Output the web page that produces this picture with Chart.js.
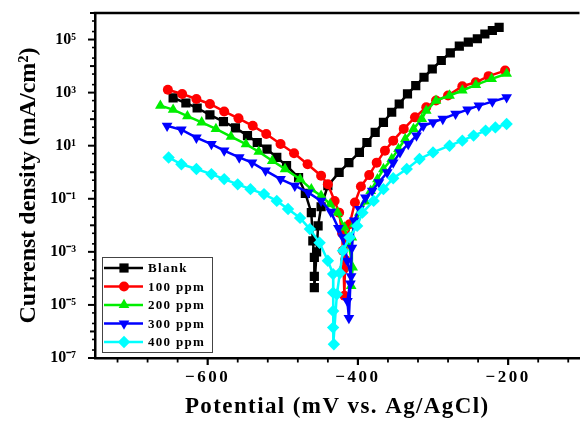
<!DOCTYPE html>
<html>
<head>
<meta charset="utf-8">
<script src="https://cdn.jsdelivr.net/npm/chart.js@4.4.1/dist/chart.umd.min.js"></script>
<style>
  html, body { margin: 0; padding: 0; background: #fff; }
  #wrap { width: 586px; height: 421px; }
</style>
</head>
<body>
<div id="wrap"><canvas id="tafel" width="586" height="421"></canvas></div>
<script>
// Potentiodynamic polarization (Tafel) curves: potential in mV, current density in mA/cm2
const seriesNames = ['Blank', '100 ppm', '200 ppm', '300 ppm', '400 ppm'];

const blankPotential = [-646, -629, -614, -597, -579, -563, -547, -534, -521, -508, -495, -479, -470, -462, -460, -458, -458, -458, -455, -453, -449, -440, -425, -412, -398, -388, -377, -366, -355, -345, -334, -323, -312, -301, -289, -277, -265, -253, -241, -231, -221, -212];
const blankCurrent = [631, 407, 263, 145, 81, 47, 24, 13.2, 7.4, 3.6, 1.78, 0.63, 0.16, 0.030, 0.0026, 6.2e-4, 1.2e-4, 4.5e-5, 1.0e-3, 0.0095, 0.05, 0.31, 0.98, 2.3, 5.6, 13.2, 32, 76, 182, 372, 891, 1820, 3800, 7760, 16200, 31600, 56200, 79400, 107000, 162000, 219000, 288000];

const ppm100Potential = [-653, -634, -615, -597, -578, -559, -540, -522, -503, -485, -467, -449, -440, -431, -425, -421, -420, -419, -418, -417, -414, -411, -404, -396, -385, -375, -364, -353, -339, -324, -309, -296, -280, -261, -243, -226, -204];
const ppm100Current = [1290, 891, 575, 372, 195, 107, 56, 27.5, 11.5, 5.2, 2.0, 0.74, 0.35, 0.083, 0.030, 0.005, 1.1e-3, 2.2e-4, 2.2e-5, 5e-4, 3.2e-3, 0.011, 0.072, 0.29, 0.78, 2.3, 6.5, 15.5, 43, 117, 282, 501, 776, 1740, 2450, 4170, 6760];

const ppm200Potential = [-663, -646, -627, -608, -589, -569, -549, -532, -514, -497, -477, -462, -449, -437, -427, -418, -412, -407, -409, -408, -405, -398, -390, -383, -374, -366, -355, -346, -337, -326, -315, -309, -296, -278, -261, -243, -222, -202];
const ppm200Current = [324, 229, 129, 76, 43, 22, 11.5, 5.9, 2.7, 1.32, 0.55, 0.23, 0.13, 0.063, 0.030, 0.0083, 0.0019, 2.6e-4, 5.2e-5, 0.0035, 0.011, 0.030, 0.079, 0.20, 0.55, 1.32, 3.16, 7.6, 17.8, 43, 102, 209, 501, 776, 1200, 1950, 3310, 5130];

const ppm300Potential = [-654, -635, -615, -595, -578, -558, -541, -523, -503, -484, -466, -449, -436, -426, -420, -414, -409, -414, -412, -410, -408, -405, -398, -390, -381, -372, -361, -353, -344, -333, -322, -313, -300, -287, -270, -254, -239, -221, -202];
const ppm300Current = [56, 40, 20, 11.5, 6.5, 3.6, 2.3, 1.15, 0.55, 0.31, 0.17, 0.083, 0.032, 0.0079, 0.0035, 4.6e-4, 1.2e-4, 1.4e-5, 3.2e-6, 6.3e-5, 0.0014, 0.015, 0.041, 0.11, 0.20, 0.42, 0.98, 2.3, 5.6, 11.5, 24, 56, 76, 102, 158, 229, 324, 457, 661];

const ppm400Potential = [-652, -635, -615, -595, -578, -560, -543, -525, -508, -493, -477, -464, -451, -440, -433, -433, -433, -433, -432, -428, -424, -420, -411, -401, -394, -379, -366, -353, -335, -318, -300, -278, -261, -246, -230, -217, -202];
const ppm400Current = [3.6, 2.0, 1.32, 0.85, 0.55, 0.35, 0.23, 0.15, 0.083, 0.041, 0.019, 0.0072, 0.0022, 4.6e-4, 1.45e-4, 2.9e-5, 5.9e-6, 1.4e-6, 3.3e-7, 2.5e-5, 1.6e-4, 1.1e-3, 3.5e-3, 9.5e-3, 0.030, 0.083, 0.23, 0.59, 1.32, 3.16, 5.6, 10, 15.5, 24, 37, 49, 66];

// Axis ticks
const xMajorTicks = [-600, -400, -200];
const xMinorStep = 40;
const yDecades = [-7, -6, -5, -4, -3, -2, -1, 0, 1, 2, 3, 4, 5, 6];
const yLabelledDecades = [-7, -5, -3, -1, 1, 3, 5];

const serif = "'Liberation Serif', 'Times New Roman', serif";

function pairs(xs, ys) {
  return xs.map((x, i) => ({ x: x, y: ys[i] }));
}

const SUP = { '-': '\u207B', '0': '\u2070', '1': '\u00B9', '2': '\u00B2', '3': '\u00B3', '4': '\u2074', '5': '\u2075', '6': '\u2076', '7': '\u2077', '8': '\u2078', '9': '\u2079' };
function power10(e) {
  return '10' + String(e).split('').map(c => SUP[c]).join('');
}

// Wraps a scale's text drawing so its labels and title get extra tracking
function withTracking(scale, labelSpacing, titleSpacing) {
  if (scale.__tracked) return;
  scale.__tracked = true;
  const drawLabels = scale.drawLabels;
  const drawTitle = scale.drawTitle;
  scale.drawLabels = function (area) {
    const c = this.ctx, old = c.letterSpacing;
    c.letterSpacing = labelSpacing;
    drawLabels.call(this, area);
    c.letterSpacing = old || '0px';
  };
  scale.drawTitle = function (area) {
    const c = this.ctx, old = c.letterSpacing;
    c.letterSpacing = titleSpacing;
    drawTitle.call(this, area);
    c.letterSpacing = old || '0px';
  };
}

const styles = [
  { color: '#000000', pointStyle: 'rect', radius: 6.5, rotation: 0 },
  { color: '#ff0000', pointStyle: 'circle', radius: 5, rotation: 0 },
  { color: '#00ee00', pointStyle: 'triangle', radius: 6.2, rotation: 0 },
  { color: '#0000ff', pointStyle: 'triangle', radius: 6.2, rotation: 180 },
  { color: '#00ffff', pointStyle: 'rectRot', radius: 6.2, rotation: 0 }
];
const seriesData = [
  pairs(blankPotential, blankCurrent),
  pairs(ppm100Potential, ppm100Current),
  pairs(ppm200Potential, ppm200Current),
  pairs(ppm300Potential, ppm300Current),
  pairs(ppm400Potential, ppm400Current)
];

const datasets = seriesNames.map((name, i) => ({
  label: name,
  data: seriesData[i],
  showLine: true,
  borderColor: styles[i].color,
  backgroundColor: styles[i].color,
  borderWidth: 2.5,
  pointStyle: styles[i].pointStyle,
  pointRotation: styles[i].rotation,
  pointRadius: styles[i].radius,
  pointBorderWidth: 0,
  pointBackgroundColor: styles[i].color,
  tension: 0,
  order: seriesNames.length - i
}));

// Outside tick marks, top frame line and the in-plot legend box
const frameAndLegend = {
  id: 'frameAndLegend',
  afterDraw(chart) {
    const ctx = chart.ctx;
    const a = chart.chartArea;
    const xs = chart.scales.x;
    const ys = chart.scales.y;
    ctx.save();
    ctx.strokeStyle = '#000';
    ctx.lineCap = 'butt';

    // top frame
    ctx.lineWidth = 2.5;
    ctx.beginPath();
    ctx.moveTo(a.left - 1.25, a.top);
    ctx.lineTo(a.right, a.top);
    ctx.stroke();

    // x ticks
    xs.ticks.forEach(t => {
      const px = xs.getPixelForValue(t.value);
      const major = xMajorTicks.includes(t.value);
      ctx.lineWidth = major ? 2.2 : 1.8;
      ctx.beginPath();
      ctx.moveTo(px, a.bottom);
      ctx.lineTo(px, a.bottom + (major ? 7 : 4.5));
      ctx.stroke();
    });

    // y ticks
    ys.ticks.forEach(t => {
      const py = ys.getPixelForValue(t.value);
      const e = Math.round(Math.log10(t.value));
      const isDecade = Math.abs(Math.log10(t.value) - e) < 1e-6;
      let len = 3;
      if (isDecade) len = yLabelledDecades.includes(e) ? 7 : 5;
      ctx.lineWidth = isDecade ? 2 : 1.6;
      ctx.beginPath();
      ctx.moveTo(a.left, py);
      ctx.lineTo(a.left - len, py);
      ctx.stroke();
    });

    // legend
    const box = { x: 102, y: 257, w: 110, h: 95 };
    ctx.lineWidth = 1;
    ctx.strokeStyle = '#444';
    ctx.strokeRect(box.x + 0.5, box.y + 0.5, box.w, box.h);
    ctx.font = 'bold 13px ' + serif;
    ctx.textBaseline = 'middle';
    ctx.textAlign = 'left';
    ctx.letterSpacing = '1.3px';
    chart.data.datasets.forEach((ds, i) => {
      const yy = 268 + i * 18.5;
      ctx.strokeStyle = ds.borderColor;
      ctx.fillStyle = ds.borderColor;
      ctx.lineWidth = 2.5;
      ctx.beginPath();
      ctx.moveTo(104, yy);
      ctx.lineTo(143, yy);
      ctx.stroke();
      Chart.helpers.drawPoint(ctx, {
        pointStyle: ds.pointStyle,
        rotation: ds.pointRotation,
        radius: ds.pointRadius,
        borderWidth: 0
      }, 124, yy);
      ctx.fillStyle = '#000';
      ctx.fillText(ds.label, 148, yy + 1);
    });
    ctx.letterSpacing = '0px';
    ctx.restore();
  }
};

new Chart(document.getElementById('tafel'), {
  type: 'scatter',
  data: { datasets: datasets },
  plugins: [frameAndLegend],
  options: {
    responsive: false,
    animation: false,
    layout: { padding: { top: 13, right: 0, bottom: 0, left: 0 } },
    plugins: {
      legend: { display: false },
      tooltip: { enabled: false }
    },
    scales: {
      x: {
        type: 'linear',
        min: -750,
        max: -105,
        afterFit(scale) {
          scale.height = 63;
          scale.paddingLeft = 0;
          scale.paddingRight = 0;
          withTracking(scale, '2.5px', '1.4px');
        },
        afterBuildTicks(scale) {
          const ticks = [];
          for (let v = xMajorTicks[0] - 3 * xMinorStep; v <= scale.max; v += xMinorStep) ticks.push({ value: v });
          scale.ticks = ticks;
        },
        grid: { display: true, drawOnChartArea: false, drawTicks: false },
        border: { display: true, width: 2.5, color: '#000' },
        ticks: {
          autoSkip: false,
          maxRotation: 0,
          padding: 9,
          color: '#000',
          font: { family: serif, size: 17, weight: 'bold' },
          callback: v => xMajorTicks.includes(v) ? '\u2212' + Math.abs(v) : ''
        },
        title: {
          display: true,
          text: 'Potential (mV vs. Ag/AgCl)',
          color: '#000',
          font: { family: serif, size: 23, weight: 'bold' },
          padding: { top: 0, bottom: 0 }
        }
      },
      y: {
        type: 'logarithmic',
        min: 1e-7,
        max: 1e6,
        afterFit(scale) {
          scale.width = 95;
          scale.paddingTop = 0;
          scale.paddingBottom = 0;
        },
        afterBuildTicks(scale) {
          const ticks = [];
          yDecades.forEach(e => {
            ticks.push({ value: Math.pow(10, e) });
            if (e < yDecades[yDecades.length - 1]) {
              ticks.push({ value: 2 * Math.pow(10, e) });
              ticks.push({ value: 5 * Math.pow(10, e) });
            }
          });
          scale.ticks = ticks;
        },
        grid: { display: true, drawOnChartArea: false, drawTicks: false },
        border: { display: true, width: 2.5, color: '#000' },
        ticks: {
          autoSkip: false,
          padding: 19,
          color: '#000',
          font: { family: serif, size: 16, weight: 'bold' },
          callback: v => {
            const e = Math.round(Math.log10(v));
            if (Math.abs(Math.log10(v) - e) > 1e-6) return '';
            return yLabelledDecades.includes(e) ? power10(e) : '';
          }
        },
        title: {
          display: true,
          text: 'Currenst density (mA/cm\u00B2)',
          color: '#000',
          font: { family: serif, size: 24, weight: 'bold' },
          padding: { top: 14, bottom: 0 }
        }
      }
    }
  }
});
</script>
</body>
</html>
